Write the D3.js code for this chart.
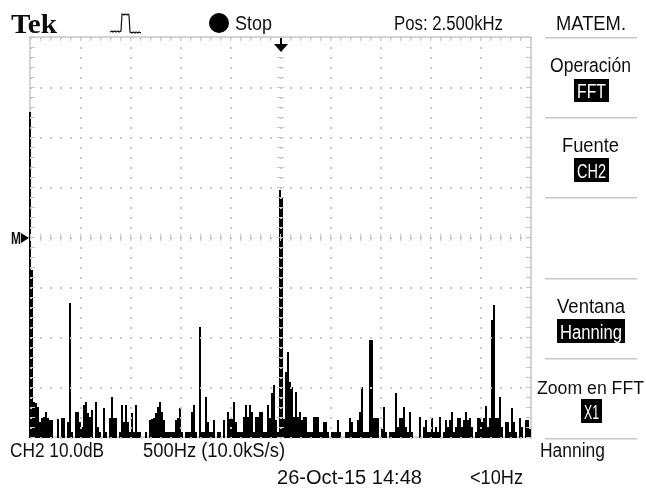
<!DOCTYPE html>
<html>
<head>
  <meta charset="utf-8">
  <script src="https://d3js.org/d3.v7.min.js"></script>
  <style>
    body { margin: 0; background: #fff; }
    text { font-family: "Liberation Sans", sans-serif; font-size: 20px; fill: #111; }
  </style>
</head>
<body>
  <svg id="scope" width="646" height="489"></svg>
<script>
  // FFT magnitude in dB, one value per 20 Hz bin (0 .. 5000 Hz)
  const spectrumDb = [
    25, -6.6, -33, -33.2, -34, -37, -36.2, -36, -35, -36.2,
    -36.6, -36.6, -40, -40, -36.4, -40, -36.2, -36.2, -40, -37,
    -13.2, -39, -40, -35, -35, -37, -38, -33.6, -33, -35.2,
    -36, -34.6, -40, -33, -38, -39, -40, -34.2, -39, -40,
    -36.2, -32, -36.2, -36.2, -40, -39, -33.6, -37, -33.6, -37,
    -39, -35.2, -39, -33.6, -39, -39, -40, -40, -39, -40,
    -36.6, -36.4, -36.2, -35.2, -34, -33, -35, -36.6, -39, -39,
    -39, -39, -39, -36.6, -36.2, -34.2, -39, -40, -39, -39,
    -39, -35, -33.6, -39, -40, -18, -39, -39, -32, -37,
    -39, -39, -36.6, -40, -39, -39, -40, -36.6, -40, -35,
    -36.4, -36.4, -33, -37, -39, -39, -39, -36, -33.6, -36,
    -33.6, -35, -39, -36, -36, -35, -35, -39, -39, -33.6,
    -36.2, -31.2, -29.6, -36.6, -39, 9.4, 8, -36.4, -27, -23,
    -29, -30, -36, -31, -36, -35, -36.6, -36, -36, -39,
    -39, -39, -36, -36, -36, -39, -39, -37, -37, -39,
    -40, -39, -39, -39, -36.6, -39, -40, -40, -39, -39,
    -36.2, -37, -39, -39, -36.6, -35, -30, -39, -39, -39,
    -20.6, -20.6, -36.2, -36.2, -36.2, -40, -38.4, -34, -39, -40,
    -39, -39, -39, -31.2, -38, -36.2, -36.2, -34, -38, -39,
    -35, -39, -40, -40, -40, -36, -40, -38, -36.6, -39,
    -39, -36.2, -39, -38, -39, -36, -40, -39, -36.6, -38,
    -36.6, -34.9, -39, -38, -36.2, -36.2, -38, -36.6, -34.9, -36.6,
    -36.2, -38, -40, -39, -36.2, -36.2, -37, -36.2, -33.7, -38,
    -36.2, -16.5, -13.6, -36.2, -36.2, -32, -38, -40, -37, -37,
    -39, -34.1, -37, -39, -40, -36.2, -38, -40, -36.6, -36.6,
    -38.3
  ];
  const binHz = 20;

  const menuLabels = [
    ["Stop", 235, 272, 30], ["Pos: 2.500kHz", 394, 503, 30], ["MATEM.", 556, 626, 30],
    ["Operación", 550, 631, 72], ["Fuente", 562, 619, 152], ["Ventana", 557, 625, 313],
    ["Zoom en FFT", 537, 644, 394, 18], ["Hanning", 540, 605, 457], ["CH2 10.0dB", 10, 104, 457],
    ["500Hz (10.0kS/s)", 143, 285, 457], ["26-Oct-15 14:48", 277, 422, 484], ["<10Hz", 470, 523, 484]
  ];
  const menuBoxes = [
    ["FFT", 574, 609, 79, 102], ["CH2", 574, 609, 158, 182],
    ["Hanning", 557, 625, 319, 343], ["X1", 581, 602, 399, 423]
  ];
  const menuRules = [37, 117, 197, 278, 358, 438];

  const svg = d3.select("#scope");
  const x = d3.scaleLinear().domain([0, 5000]).range([30, 530]);
  const y = d3.scaleLinear().domain([-40, 40]).range([437, 37]);
  const gridColor = "#c8c8c8";

  // the capture is a soft screenshot
  svg.append("defs").append("filter").attr("id", "soft")
    .append("feGaussianBlur").attr("stdDeviation", 0.45);
  const root = svg.append("g").attr("filter", "url(#soft)");

  root.append("rect").attr("width", 646).attr("height", 489).attr("fill", "#fff");

  root.append("rect")
    .attr("x", x(0)).attr("y", y(40))
    .attr("width", x(5000) - x(0) + 1).attr("height", y(-40) - y(40))
    .attr("fill", "none").attr("stroke", gridColor).attr("stroke-width", 1.5);

  // spectrum first, the graticule is painted over it on the scope
  root.append("g").selectAll("rect")
    .data(spectrumDb)
    .join("rect")
    .attr("x", (d, i) => x(i * binHz) - 1)
    .attr("width", 2)
    .attr("y", d => y(d))
    .attr("height", d => d > -40 ? y(-40) - y(d) + 1 : 0)
    .attr("fill", "#000")
    .attr("shape-rendering", "crispEdges");

  const grid = root.append("g").attr("fill", gridColor).attr("shape-rendering", "crispEdges");
  const minorX = d3.range(0, 5001, 100);
  const minorY = d3.range(-40, 41, 2);
  const majorX = d3.range(0, 5001, 500);
  const majorY = d3.range(-40, 41, 10);

  // dotted rows and columns
  majorY.forEach(v => {
    grid.selectAll(null).data(minorX).join("rect")
      .attr("x", d => x(d)).attr("y", y(v)).attr("width", 2).attr("height", 2);
  });
  majorX.forEach(v => {
    grid.selectAll(null).data(minorY).join("rect")
      .attr("x", x(v)).attr("y", d => y(d)).attr("width", 2).attr("height", 2);
  });
  // ticks on the frame and the centre lines
  grid.selectAll(null).data(minorX).join("rect")
    .attr("x", d => x(d)).attr("y", y(40)).attr("width", 1).attr("height", 4);
  grid.selectAll(null).data(minorY).join("rect")
    .attr("x", x(0)).attr("y", d => y(d)).attr("width", 5).attr("height", 1);
  grid.selectAll(null).data(minorY).join("rect")
    .attr("x", x(5000) - 4).attr("y", d => y(d)).attr("width", 5).attr("height", 1);
  grid.selectAll(null).data(minorY).join("rect")
    .attr("x", x(2500) - 3).attr("y", d => y(d)).attr("width", 7).attr("height", 1);
  grid.selectAll(null).data(minorX).join("rect")
    .attr("x", d => x(d)).attr("y", y(0) - 3).attr("width", 1).attr("height", 7);

  // right hand menu
  root.append("g").selectAll("rect")
    .data(menuRules)
    .join("rect")
    .attr("x", 545).attr("width", 92).attr("y", d => d).attr("height", 1.5)
    .attr("fill", gridColor);

  function fitText(g, label, left, right, base, color, size) {
    g.append("text")
      .attr("x", left).attr("y", base)
      .attr("textLength", right - left)
      .attr("lengthAdjust", "spacingAndGlyphs")
      .style("fill", color)
      .style("font-size", (size || 20) + "px")
      .text(label);
  }

  const labels = root.append("g");
  menuLabels.forEach(d => fitText(labels, d[0], d[1], d[2], d[3], "#111", d[4]));
  menuBoxes.forEach(d => {
    labels.append("rect")
      .attr("x", d[1]).attr("y", d[3])
      .attr("width", d[2] - d[1]).attr("height", d[4] - d[3])
      .attr("fill", "#000");
    fitText(labels, d[0], d[1] + 3, d[2] - 3, d[4] - 4, "#fff");
  });

  // header glyphs
  root.append("text")
    .attr("x", 11).attr("y", 33)
    .style("font-family", "Liberation Serif")
    .style("font-weight", "bold")
    .style("font-size", "27px")
    .attr("textLength", 46)
    .attr("lengthAdjust", "spacingAndGlyphs")
    .text("Tek");

  root.append("circle").attr("cx", 219).attr("cy", 23).attr("r", 10).attr("fill", "#000");

  root.append("path")
    .attr("d", "M110,32l2,-1l1,1l2,-1l1,1l2,-1l1,1l2,-1l1,-17l2,1l1,-1l2,1l1,-1l1,1l1,17l2,1l1,-1l2,1l1,-1l2,1l1,-1l2,1")
    .attr("fill", "none").attr("stroke", "#111").attr("stroke-width", 1.2);

  // trigger position arrow
  root.append("path")
    .attr("d", "M280,38h2v6h6l-7,8l-7,-8h6z")
    .attr("fill", "#000");

  // math reference marker
  root.append("text")
    .attr("x", 11).attr("y", 244)
    .attr("textLength", 10)
    .attr("lengthAdjust", "spacingAndGlyphs")
    .style("font-size", "17px")
    .style("font-weight", "bold")
    .text("M");
  root.append("path").attr("d", "M21,233l8,5l-8,5z").attr("fill", "#000");
</script>
</body>
</html>
